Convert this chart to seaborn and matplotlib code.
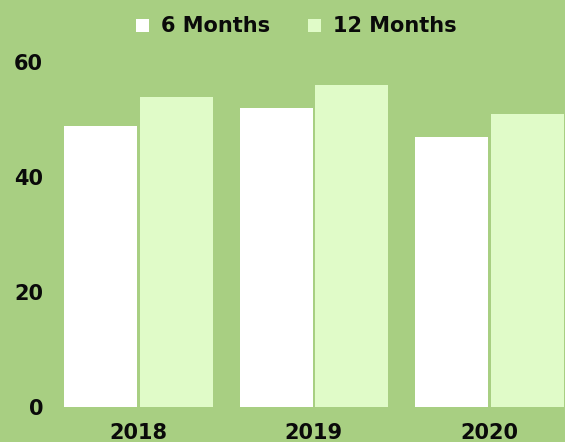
import pandas as pd
import matplotlib.pyplot as plt
import seaborn as sns

# data
years = ['2018', '2019', '2020']
series = ['6 Months', '12 Months']
six_months = [49, 52, 47]
twelve_months = [54, 56, 51]
y_ticks = [0, 20, 40, 60]

BG = '#a8cf82'
colors = ['#ffffff', '#e0fbc8']

df = pd.DataFrame({
    'year': years * 2,
    'value': six_months + twelve_months,
    'series': [series[0]] * len(years) + [series[1]] * len(years),
})

sns.set_theme(style='white')
plt.rcParams['font.family'] = ['DejaVu Sans']
plt.rcParams['font.weight'] = 'bold'

W, H = 565, 442
fig = plt.figure(figsize=(W / 100, H / 100), dpi=100, facecolor=BG)
ax = fig.add_axes([50 / W, (H - 407) / H, (W - 50) / W, 344.5 / H])
ax.set_facecolor(BG)

sns.barplot(data=df, x='year', y='value', hue='series', palette=colors,
            width=0.862, gap=0.035, linewidth=0, saturation=1, ax=ax)

ax.set_xlim(-0.503, 2.43)
ax.set_ylim(0, 60)
ax.set_yticks(y_ticks)
ax.set_xlabel('')
ax.set_ylabel('')
for s in ax.spines.values():
    s.set_visible(False)
ax.tick_params(axis='y', length=0, pad=5, labelsize=15)
ax.tick_params(axis='x', length=0, pad=11.5, labelsize=15)
for lab in ax.get_xticklabels() + ax.get_yticklabels():
    lab.set_fontweight('bold')
    lab.set_color('#0a0a0a')

handles, labels = ax.get_legend_handles_labels()
ax.get_legend().remove()
leg = fig.legend(handles, labels, loc='center', bbox_to_anchor=(296.5 / W, 1 - 26.5 / H),
                 ncol=2, frameon=False, handlelength=0.6, handleheight=0.6,
                 handletextpad=0.6, columnspacing=1.8,
                 prop={'weight': 'bold', 'size': 15})
for t in leg.get_texts():
    t.set_color('#0a0a0a')

plt.savefig('out.png', dpi=100, facecolor=BG)
